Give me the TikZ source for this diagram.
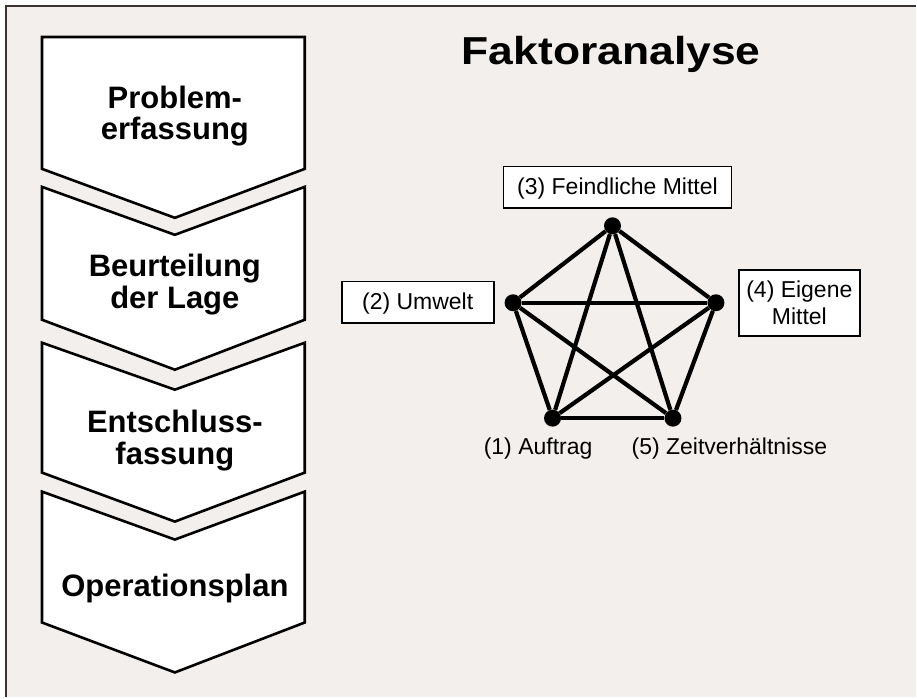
\documentclass[tikz,border=0pt]{standalone}
\usepackage{fontspec}
\setmainfont{Liberation Sans}
\definecolor{bgc}{RGB}{243,239,236}
\definecolor{framec}{RGB}{60,50,48}
\begin{document}
\begin{tikzpicture}[x=1pt,y=-1pt,
  chev/.style={draw=black, line width=2.6pt, fill=white, line join=miter},
  chevtext/.style={font=\bfseries\fontsize{31}{31.5}\selectfont, align=center, inner sep=0pt},
  lbl/.style={draw=black, line width=1.8pt, fill=white, font=\fontsize{23}{26.7}\selectfont, inner sep=0pt},
  oneline/.style={text height=16pt, text depth=1pt},
  plain/.style={font=\fontsize{23}{26.7}\selectfont, inner sep=0pt},
  vtx/.style={circle, fill=black, inner sep=0pt, minimum size=17pt},
  link/.style={line width=4.2pt},
  titlestyle/.style={font=\bfseries\fontsize{39}{44}\selectfont, inner sep=0pt, xscale=1.14}
]
% background and frame
\fill[white] (0,0) rectangle (917,698);
\fill[bgc] (6,6) rectangle (917,698);
\draw[framec, line width=1.5pt] (6,698) -- (6,6) -- (917,6);
\useasboundingbox (0,0) rectangle (917,698);

% chevrons
\draw[chev] (42,37) -- (305,37) -- (305,169) -- (175,218) -- (42,169) -- cycle;
\draw[chev] (42,187) -- (175,235) -- (305,187) -- (305,320) -- (175,370) -- (42,320) -- cycle;
\draw[chev] (42,343) -- (175,390) -- (305,343) -- (305,473) -- (175,522) -- (42,473) -- cycle;
\draw[chev] (42,492) -- (175,540) -- (305,492) -- (305,623) -- (175,673) -- (42,623) -- cycle;

\node[chevtext] (t1) at (175,116) {Problem-\\erfassung};
\node[chevtext] (t2) at (175,285) {Beurteilung\\der Lage};
\node[chevtext] (t3) at (175,441) {Entschluss-\\fassung};
\node[chevtext, anchor=base] (t4) at (175,597) {Operationsplan};

% title
\node[titlestyle, anchor=base west] (title) at (462,65) {Faktoranalyse};

% labels
\node[lbl, oneline, minimum width=228pt, minimum height=41.6pt] (l3) at (618,187.5) {(3) Feindliche Mittel};
\node[lbl, oneline, minimum width=152pt, minimum height=41.6pt] (l2) at (418,302.5) {(2) Umwelt};
\node[lbl, align=center, minimum width=121.4pt, minimum height=66pt] (l4) at (800,303) {(4) Eigene\\Mittel};
\node[plain, anchor=base west] (l1) at (484,455) {(1) Auftrag};
\node[plain, anchor=base west] (l5) at (632,455) {(5) Zeitverhältnisse};

% pentagon
\node[vtx] (v3) at (613,226) {};
\node[vtx] (v2) at (513.5,303) {};
\node[vtx] (v4) at (716.5,303) {};
\node[vtx] (v1) at (553,418.5) {};
\node[vtx] (v5) at (673.5,418.5) {};

\draw[link] (v3) -- (v2);
\draw[link] (v3) -- (v4);
\draw[link] (v2) -- (v1);
\draw[link] (v4) -- (v5);
\draw[link] (v1) -- (v5);
\draw[link] (v2) -- (v4);
\draw[link] (v3) -- (v1);
\draw[link] (v3) -- (v5);
\draw[link] (v2) -- (v5);
\draw[link] (v4) -- (v1);
\end{tikzpicture}
\end{document}
